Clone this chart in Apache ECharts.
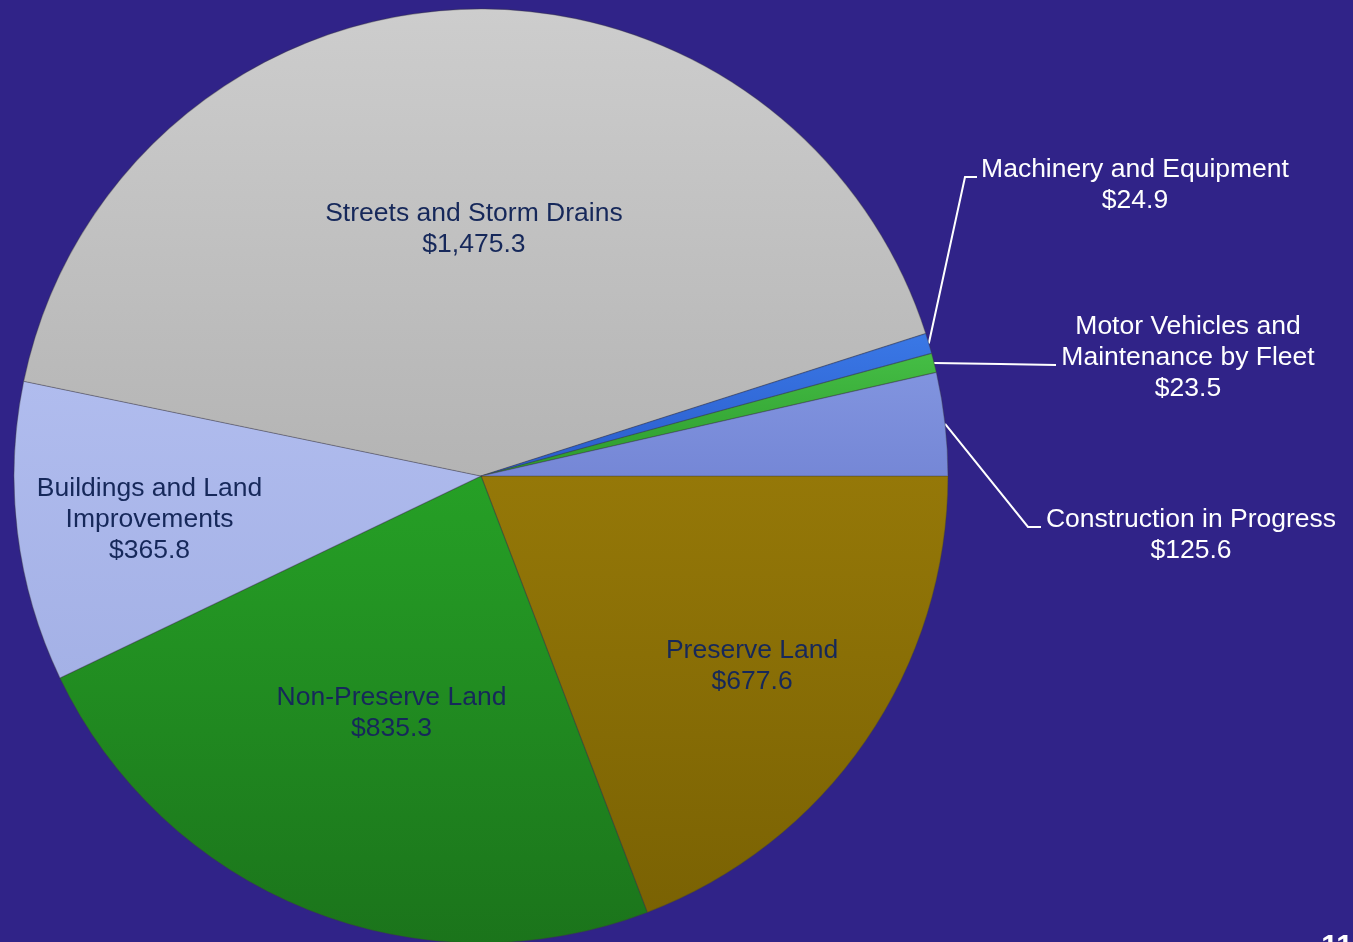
<!DOCTYPE html>
<html>
<head>
<meta charset="utf-8">
<style>
html,body{margin:0;padding:0;background:#302388;}
#chart{width:1353px;height:942px;}
</style>
<script src="https://cdn.jsdelivr.net/npm/echarts@6/dist/echarts.min.js"></script>
</head>
<body>
<div id="chart"></div>
<script>
// ---- data ----
const categories = [
  'Preserve Land',
  'Non-Preserve Land',
  'Buildings and Land\nImprovements',
  'Streets and Storm Drains',
  'Machinery and Equipment',
  'Motor Vehicles and\nMaintenance by Fleet',
  'Construction in Progress'
];
const values = [677.6, 835.3, 365.8, 1475.3, 24.9, 23.5, 125.6];
const pageNumber = '11';

// ---- styles ----
const sliceColors = [
  ['#957808', '#7A6203'],
  ['#26A026', '#1B741B'],
  ['#B0BCEE', '#A4B1E6'],
  ['#CDCDCD', '#B4B4B4'],
  ['#3A78E6', '#2A5CCB'],
  ['#45BE45', '#2C992C'],
  ['#8194DF', '#7587D6']
];
const insideIdx = [0, 1, 2, 3];
// radial scale and pixel nudge for inside label placement
const insideFactor = {0: 1.41, 1: 1.08, 2: 1.43, 3: 1.06};
const insideNudge = {0: [0, 3], 1: [4, 3], 2: [0, 3], 3: [6, 0]};
// outside label placement: text anchor (center), elbow and end of leader line
const outsideLayout = {
  4: {x: 1135, y: 185, elbow: [965, 177], end: [977, 177]},
  5: {x: 1188, y: 358, elbow: [1000, 364], end: [1056, 365]},
  6: {x: 1191, y: 535, elbow: [1028, 527], end: [1041, 527]}
};
const CX = 481, CY = 476, R = 467;

const total = values.reduce((a, b) => a + b, 0);
function midAngle(i) {
  let s = 0;
  for (let k = 0; k < i; k++) s += values[k];
  return ((s + values[i] / 2) / total) * 2 * Math.PI; // clockwise from 3 o'clock
}

const data = categories.map((name, i) => {
  const inside = insideIdx.indexOf(i) >= 0;
  return {
    name: name,
    value: values[i],
    itemStyle: {
      color: {
        type: 'linear', x: 0, y: 0, x2: 0, y2: 1,
        colorStops: [{offset: 0, color: sliceColors[i][0]}, {offset: 1, color: sliceColors[i][1]}]
      }
    },
    label: inside
      ? {position: 'inside', color: '#16285A'}
      : {position: 'outside', color: '#FFFFFF'},
    labelLine: {show: !inside}
  };
});

const chart = echarts.init(document.getElementById('chart'), null, {renderer: 'canvas'});
chart.setOption({
  backgroundColor: '#302388',
  animation: false,
  title: {
    text: pageNumber,
    right: 0,
    top: 932,
    padding: 0,
    textStyle: {color: '#FFFFFF', fontSize: 30, fontWeight: 'bold', fontFamily: 'Liberation Sans, Arial, sans-serif'}
  },
  series: [{
    type: 'pie',
    center: [CX, CY],
    radius: [0, R],
    startAngle: 0,
    clockwise: true,
    avoidLabelOverlap: false,
    itemStyle: {
      borderColor: 'rgba(60,60,60,0.35)',
      borderWidth: 1.2
    },
    label: {
      formatter: p => p.name + '\n$' + p.value.toLocaleString('en-US', {minimumFractionDigits: 1, maximumFractionDigits: 1}),
      fontSize: 26.5,
      lineHeight: 31,
      fontFamily: 'Liberation Sans, Arial, sans-serif',
      align: 'center'
    },
    labelLine: {
      lineStyle: {color: '#FFFFFF', width: 2},
      length: 20,
      length2: 20
    },
    labelLayout: function (p) {
      const i = p.dataIndex;
      if (insideFactor[i] != null) {
        const a = midAngle(i);
        const r = R / 2 * insideFactor[i];
        return {
          x: CX + r * Math.cos(a) + insideNudge[i][0],
          y: CY + r * Math.sin(a) + insideNudge[i][1],
          align: 'center',
          verticalAlign: 'middle'
        };
      }
      const o = outsideLayout[i];
      const a = midAngle(i);
      const start = [CX + R * Math.cos(a), CY + R * Math.sin(a)];
      return {
        x: o.x,
        y: o.y,
        align: 'center',
        verticalAlign: 'middle',
        labelLinePoints: [start, o.elbow, o.end]
      };
    },
    data: data
  }]
});
</script>
</body>
</html>
